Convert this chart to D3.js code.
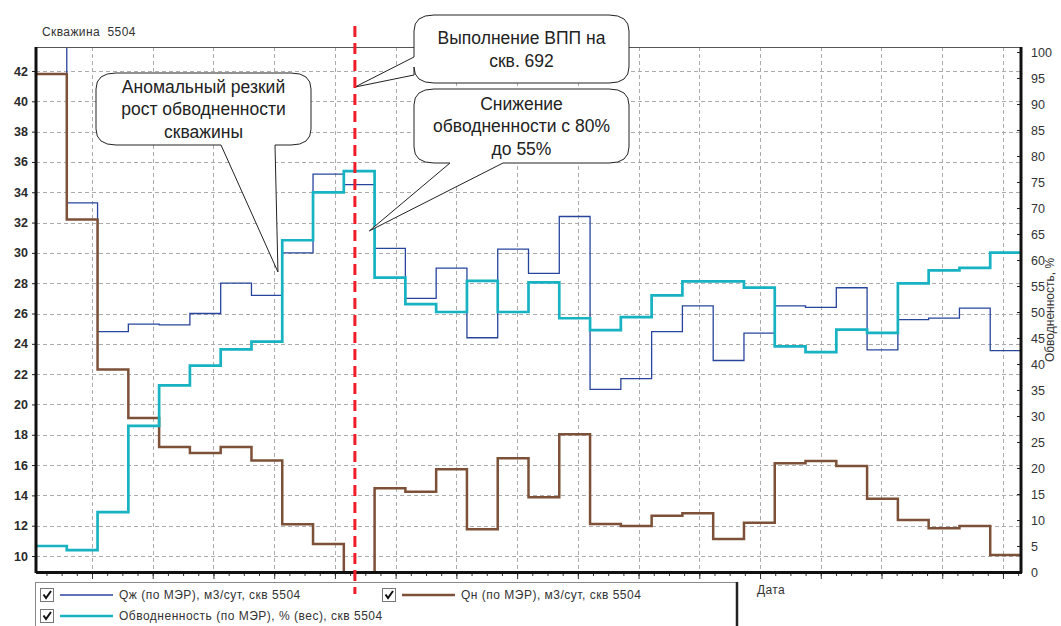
<!DOCTYPE html>
<html><head><meta charset="utf-8">
<script src="https://cdn.jsdelivr.net/npm/d3@7"></script>
<style>body{margin:0;background:#fff} svg{display:block}</style>
</head><body>
<svg id="c" width="1061" height="626"></svg>
<script>
// ---- data (one value per monthly step) ----
const qLiquid = [46, 33.3, 24.8, 25.3, 25.25, 26.0, 28.0, 27.2, 30.0, 35.2, 34.5, 30.3, 27.0, 29.0, 24.4, 30.25,
                 28.65, 32.4, 21.0, 21.7, 24.8, 26.5, 22.9, 24.7, 26.5, 26.4, 27.7, 23.6, 25.6, 25.7, 26.35, 23.55];
const qOil = [41.8, 32.2, 22.3, 19.1, 17.2, 16.8, 17.2, 16.3, 12.1, 10.8, 0, 14.47, 14.24, 15.72, 11.76, 16.45,
              13.87, 18.03, 12.11, 11.98, 12.66, 12.82, 11.12, 12.2, 16.12, 16.27, 15.94, 13.78, 12.38, 11.83, 11.98, 10.07];
const waterCut = [5.0, 4.2, 11.5, 28.1, 35.9, 39.7, 42.8, 44.3, 63.8, 73.0, 77.1, 56.6, 51.5, 50.0, 56.0, 50.0,
                  55.7, 48.8, 46.5, 49.0, 53.2, 55.9, 55.9, 54.7, 43.4, 42.3, 46.6, 46.0, 55.5, 58.0, 58.5, 61.4];
const leftTicks = [10,12,14,16,18,20,22,24,26,28,30,32,34,36,38,40,42];
const rightTicks = [0,5,10,15,20,25,30,35,40,45,50,55,60,65,70,75,80,85,90,95,100];
const vppStep = 10.36;          // date of the ВПП job (in monthly steps)
const gridStart = 1.819, gridStep = 1.973;   // 60-day grid, in monthly steps
const seriesNames = ["Qж (по МЭР), м3/сут, скв 5504", "Qн (по МЭР), м3/сут, скв 5504", "Обводненность (по МЭР), % (вес), скв 5504"];
const callouts = [
  {lines:["Аномальный резкий","рост обводненности","скважины"], box:[96,73,215,72], side:"bottom", base:[221,275], tip:[7.86,28.74,"L"]},
  {lines:["Выполнение ВПП на","скв. 692"], box:[414,15,215,68], side:"left", base:[57,75], tip:[vppStep,40.94,"L"]},
  {lines:["Снижение","обводненности с 80%","до 55%"], box:[414,89,215,74], side:"bottom", base:[450,503], tip:[10.83,65.6,"R"]}
];

const colors = {liq:"#27459c", oil:"#7d5038", wc:"#17b3c2", red:"#f01c28", grid:"#ababab"};
const P = {l:36, r:1021, t:47, b:572};

const svg = d3.select("#c");
const x = d3.scaleLinear().domain([0, 32]).range([P.l, P.r]);
const yL = d3.scaleLinear().domain([10, 42]).range([556, 71]);
const yR = d3.scaleLinear().domain([0, 100]).range([572, 52]);

svg.append("defs").append("clipPath").attr("id","clip")
  .append("rect").attr("x",P.l).attr("y",P.t).attr("width",P.r-P.l).attr("height",P.b-P.t);

// grid
const g = svg.append("g");
const vGrid = d3.range(gridStart, 32, gridStep);
g.selectAll(".hg").data(leftTicks).join("line")
  .attr("x1",P.l).attr("x2",P.r).attr("y1",d=>Math.round(yL(d))+0.5).attr("y2",d=>Math.round(yL(d))+0.5)
  .attr("stroke",colors.grid).attr("stroke-dasharray","4,3");
g.selectAll(".vg").data(vGrid).join("line")
  .attr("y1",P.t).attr("y2",P.b).attr("x1",d=>Math.round(x(d))+0.5).attr("x2",d=>Math.round(x(d))+0.5)
  .attr("stroke",colors.grid).attr("stroke-dasharray","4,3");

// series
function stepPts(arr){ const p = arr.map((v,i)=>[i,v]); p.push([arr.length, arr[arr.length-1]]); return p; }
const lineL = d3.line().x(d=>x(d[0])).y(d=>yL(d[1])).curve(d3.curveStepAfter);
const lineR = d3.line().x(d=>x(d[0])).y(d=>yR(d[1])).curve(d3.curveStepAfter);
const s = svg.append("g").attr("clip-path","url(#clip)");
s.append("path").attr("d",lineL(stepPts(qLiquid))).attr("fill","none").attr("stroke",colors.liq).attr("stroke-width",1.3);
s.append("path").attr("d",lineL(stepPts(qOil))).attr("fill","none").attr("stroke",colors.oil).attr("stroke-width",2.5);
s.append("path").attr("d",lineR(stepPts(waterCut))).attr("fill","none").attr("stroke",colors.wc).attr("stroke-width",2.7);

// frame
svg.append("line").attr("x1",P.l).attr("x2",P.r).attr("y1",P.t+0.5).attr("y2",P.t+0.5).attr("stroke","#555").attr("stroke-width",1.2);

// left axis
const axL = svg.append("g").attr("transform",`translate(${P.l},0)`)
  .call(d3.axisLeft(yL).tickValues(leftTicks).tickSize(4).tickPadding(4));
axL.select(".domain").remove();
axL.selectAll("text").attr("font-family","Liberation Sans, Arial, sans-serif").attr("font-size",12.5)
  .attr("font-weight","bold").attr("fill","#2a2a2a");
axL.selectAll("line").attr("stroke","#222");
svg.append("line").attr("x1",P.l).attr("x2",P.l).attr("y1",P.t).attr("y2",P.b+1).attr("stroke","#111").attr("stroke-width",3);

// right axis
const axR = svg.append("g").attr("transform",`translate(${P.r},0)`)
  .call(d3.axisRight(yR).tickValues(rightTicks).tickSizeInner(-4).tickSizeOuter(0).tickPadding(10));
axR.select(".domain").remove();
axR.selectAll("text").attr("font-family","Liberation Sans, Arial, sans-serif").attr("font-size",12.5).attr("fill","#333");
axR.selectAll("line").attr("stroke","#222");
svg.append("line").attr("x1",P.r).attr("x2",P.r).attr("y1",P.t).attr("y2",P.b+1).attr("stroke","#111").attr("stroke-width",3);

// bottom axis
const minor = d3.range(gridStart - 3*gridStep/4, 32, gridStep/4);
const axB = svg.append("g").attr("transform",`translate(0,${P.b})`)
  .call(d3.axisBottom(x).tickValues(minor).tickSize(4).tickFormat(""));
axB.select(".domain").remove();
axB.selectAll("line").attr("stroke","#333");
svg.append("g").attr("transform",`translate(0,${P.b})`)
  .call(d3.axisBottom(x).tickValues(vGrid).tickSize(7).tickFormat(""))
  .call(a=>a.select(".domain").remove()).selectAll("line").attr("stroke","#333");
svg.append("line").attr("x1",P.l).attr("x2",P.r+1).attr("y1",P.b+0.5).attr("y2",P.b+0.5).attr("stroke","#111").attr("stroke-width",3);

// texts
const FONT = "Liberation Sans, Arial, sans-serif";
svg.append("text").attr("x",42).attr("y",36).attr("font-family",FONT).attr("font-size",12).attr("letter-spacing",0.4)
  .attr("fill","#333").style("white-space","pre").text("Скважина  5504");
svg.append("text").attr("x",757).attr("y",594).attr("font-family",FONT).attr("font-size",12).attr("letter-spacing",0.4).attr("fill","#333").text("Дата");
svg.append("text").attr("transform","translate(1054,310) rotate(-90)").attr("text-anchor","middle")
  .attr("font-family",FONT).attr("font-size",12).attr("fill","#333").text("Обводненность, %");

// callouts
function calloutPath(c, tx, ty){
  const [bx,by,bw,bh] = c.box, rx=20, ry=16;
  const R=bx+bw, B=by+bh;
  let p = `M${bx+rx},${by} H${R-rx} Q${R},${by} ${R},${by+ry} V${B-ry} Q${R},${B} ${R-rx},${B} `;
  if (c.side==="bottom") p += `H${c.base[1]} L${tx},${ty} L${c.base[0]},${B} `;
  p += `H${bx+rx} Q${bx},${B} ${bx},${B-ry} `;
  if (c.side==="left") p += `V${c.base[1]} L${tx},${ty} L${bx},${c.base[0]} `;
  p += `V${by+ry} Q${bx},${by} ${bx+rx},${by} Z`;
  return p;
}
const cg = svg.append("g");
callouts.forEach(c=>{
  const tx = x(c.tip[0]), ty = c.tip[2]==="L" ? yL(c.tip[1]) : yR(c.tip[1]);
  cg.append("path").attr("d",calloutPath(c,tx,ty)).attr("fill","#fff").attr("stroke","#222").attr("stroke-width",1);
  const cx = c.box[0]+c.box[2]/2, n=c.lines.length, lh=22.5;
  const cy = c.box[1]+c.box[3]/2;
  c.lines.forEach((t,i)=>{
    cg.append("text").attr("x",cx).attr("y",cy+(i-(n-1)/2)*lh).attr("dy","0.36em")
      .attr("text-anchor","middle").attr("font-family",FONT).attr("font-size",17.5).attr("fill","#222").text(t);
  });
});

// legend
const lg = svg.append("g");
lg.append("rect").attr("x",35.5).attr("y",582.5).attr("width",701).attr("height",60).attr("fill","#fff").attr("stroke","#8a8a8a");
lg.append("line").attr("x1",737).attr("x2",737).attr("y1",582).attr("y2",626).attr("stroke","#222").attr("stroke-width",2.5);
const legItems = [
  {name:seriesNames[0], color:colors.liq, w:1.3, cx:40, cy:595},
  {name:seriesNames[1], color:colors.oil, w:2.5, cx:382, cy:595},
  {name:seriesNames[2], color:colors.wc, w:2.7, cx:40, cy:616}
];
legItems.forEach(d=>{
  const gi = lg.append("g");
  gi.append("rect").attr("x",d.cx+0.5).attr("y",d.cy-6.5).attr("width",13).attr("height",13).attr("fill","#fff").attr("stroke","#777");
  gi.append("path").attr("d",`M${d.cx+3.5},${d.cy-0.5} L${d.cx+6},${d.cy+3} L${d.cx+11},${d.cy-4}`).attr("fill","none").attr("stroke","#111").attr("stroke-width",2);
  gi.append("line").attr("x1",d.cx+20).attr("x2",d.cx+73).attr("y1",d.cy).attr("y2",d.cy).attr("stroke",d.color).attr("stroke-width",d.w);
  gi.append("text").attr("x",d.cx+79).attr("y",d.cy).attr("dy","0.36em").attr("font-family",FONT).attr("font-size",12)
    .attr("letter-spacing",0.5).attr("fill","#333").text(d.name);
});

// red dashed line (ВПП date)
svg.append("line").attr("x1",x(vppStep)).attr("x2",x(vppStep)).attr("y1",26).attr("y2",594)
  .attr("stroke",colors.red).attr("stroke-width",3).attr("stroke-dasharray","11,6");
</script>
</body></html>
